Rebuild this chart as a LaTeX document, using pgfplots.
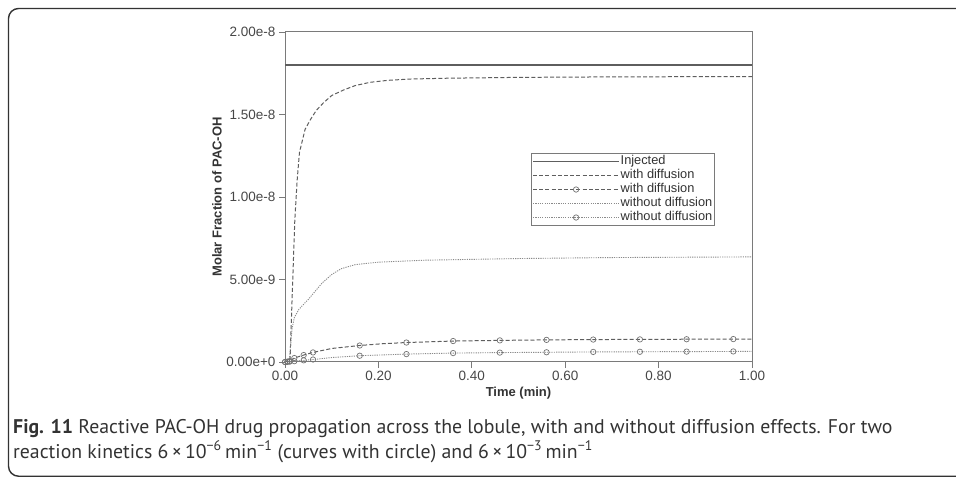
\documentclass[border=0pt]{standalone}
\usepackage{fontspec}
\setmainfont{Liberation Sans}
\newfontfamily\capfont{PT Sans}
\usepackage{pgfplots}
\pgfplotsset{compat=1.18}

\definecolor{axisgray}{HTML}{7A7A7A}
\definecolor{linegray}{HTML}{5E5E5E}
\definecolor{dotgray}{HTML}{8A8A8A}
\definecolor{textgray}{HTML}{333333}

\pgfplotsset{
  injected/.style={linegray, line width=1.1pt},
  withdiff/.style={linegray, line width=1.0pt, dash pattern=on 4pt off 2.2pt},
  withoutdiff/.style={dotgray, line width=0.9pt, dash pattern=on 1.2pt off 1.1pt},
  circ/.style={only marks, mark=o, mark size=2.7pt,
    mark options={solid, black!55, fill=white, line width=0.7pt}},
  circlegend/.style={legend image code/.code={
    \draw[##1] (0pt,0pt) -- (86pt,0pt);
    \path plot[mark=o, mark size=2.7pt, mark options={solid, black!55, fill=white, line width=0.7pt}] coordinates {(43pt,0pt)};}},
}

\begin{document}
\begin{tikzpicture}[x=1pt,y=1pt]
\path[use as bounding box] (0,0) rectangle (956,477);
% outer frame of the figure panel
\draw[line width=1.4pt, black!80, rounded corners=10pt] (8.5,0.8) rectangle (1010,468.5);

\begin{axis}[
  at={(285pt,115pt)}, anchor=south west,
  scale only axis, width=467pt, height=330pt,
  xmin=0, xmax=1, ymin=0, ymax=2e-8,
  xtick={0,0.2,0.4,0.6,0.8,1},
  xticklabels={0.00,0.20,0.40,0.60,0.80,1.00},
  ytick={0,5e-9,1e-8,1.5e-8,2e-8},
  yticklabels={0.00e+0,5.00e-9,1.00e-8,1.50e-8,2.00e-8},
  scaled y ticks=false, scaled x ticks=false,
  tick align=outside, tick pos=left,
  major tick length=6pt,
  axis line style={axisgray, line width=1pt},
  every tick/.style={axisgray, line width=0.9pt},
  tick label style={font=\fontsize{13.5}{16}\selectfont, text=black!72},
  xlabel={Time (min)}, ylabel={Molar Fraction of PAC-OH},
  label style={font=\bfseries\fontsize{13}{15}\selectfont, text=textgray},
  xlabel style={at={(axis description cs:0.5,-0.094)}, anchor=center},
  ylabel style={at={(axis description cs:-0.1456,0.5)}, anchor=center},
  legend image code/.code={\draw[#1] (0pt,0pt) -- (86pt,0pt);},
  legend cell align=left,
  legend style={at={(axis description cs:0.527,0.633)}, anchor=north west,
    draw=axisgray, line width=0.8pt, inner sep=1pt, row sep=0pt,
    font=\fontsize{12.8}{14}\selectfont, text=textgray,
    nodes={inner sep=1.1pt, text height=9.2pt, text depth=2.6pt}},
]

% injected concentration
\addplot[injected] coordinates {(0,1.8e-8) (1,1.8e-8)};
\addlegendentry{Injected}

% 6e-3 /min, with diffusion
\addplot[withdiff] coordinates {
  (0,0) (0.009,0) (0.011,0.03e-8) (0.013,0.2e-8) (0.016,0.45e-8)
  (0.021,0.86e-8) (0.026,1.10e-8) (0.031,1.27e-8) (0.043,1.41e-8)
  (0.054,1.467e-8) (0.067,1.525e-8) (0.082,1.57e-8) (0.10,1.615e-8)
  (0.125,1.648e-8) (0.15,1.675e-8) (0.182,1.695e-8) (0.22,1.707e-8)
  (0.268,1.715e-8) (0.35,1.72e-8) (0.5,1.725e-8) (0.7,1.728e-8) (1.0,1.73e-8)};
\addlegendentry{with diffusion}

% 6e-6 /min, with diffusion
\addplot[withdiff, circlegend] coordinates {
  (0,0) (0.005,0.002e-8) (0.01,0.006e-8) (0.02,0.024e-8) (0.04,0.042e-8)
  (0.06,0.058e-8) (0.10,0.082e-8) (0.16,0.100e-8) (0.21,0.111e-8) (0.26,0.118e-8)
  (0.36,0.127e-8) (0.46,0.131e-8) (0.56,0.134e-8) (0.66,0.136e-8)
  (0.76,0.137e-8) (0.86,0.138e-8) (0.96,0.139e-8) (1.0,0.139e-8)};
\addlegendentry{with diffusion}
\addplot[circ, forget plot] coordinates {
  (0,0) (0.005,0.002e-8) (0.01,0.006e-8) (0.02,0.024e-8) (0.04,0.042e-8)
  (0.06,0.058e-8) (0.16,0.100e-8) (0.26,0.118e-8) (0.36,0.127e-8)
  (0.46,0.131e-8) (0.56,0.134e-8) (0.66,0.136e-8) (0.76,0.137e-8)
  (0.86,0.138e-8) (0.96,0.139e-8)};

% 6e-3 /min, without diffusion
\addplot[withoutdiff] coordinates {
  (0,0) (0.009,0) (0.012,0.10e-8) (0.015,0.20e-8) (0.02,0.27e-8)
  (0.03,0.32e-8) (0.05,0.38e-8) (0.065,0.43e-8) (0.08,0.48e-8)
  (0.10,0.53e-8) (0.12,0.565e-8) (0.15,0.59e-8) (0.2,0.605e-8)
  (0.3,0.617e-8) (0.5,0.627e-8) (0.7,0.633e-8) (1.0,0.637e-8)};
\addlegendentry{without diffusion}

% 6e-6 /min, without diffusion
\addplot[withoutdiff, circlegend] coordinates {
  (0,0) (0.005,0.001e-8) (0.01,0.002e-8) (0.02,0.005e-8) (0.04,0.010e-8)
  (0.06,0.015e-8) (0.10,0.027e-8) (0.16,0.038e-8) (0.26,0.048e-8)
  (0.36,0.054e-8) (0.46,0.057e-8) (0.56,0.059e-8) (0.66,0.061e-8)
  (0.76,0.062e-8) (0.86,0.063e-8) (0.96,0.064e-8) (1.0,0.064e-8)};
\addlegendentry{without diffusion}
\addplot[circ, forget plot] coordinates {
  (0,0) (0.005,0.001e-8) (0.01,0.002e-8) (0.02,0.005e-8) (0.04,0.010e-8)
  (0.06,0.015e-8) (0.16,0.038e-8) (0.26,0.048e-8) (0.36,0.054e-8)
  (0.46,0.057e-8) (0.56,0.059e-8) (0.66,0.061e-8) (0.76,0.062e-8)
  (0.86,0.063e-8) (0.96,0.064e-8)};
\end{axis}

% figure caption
\node[anchor=base west, inner sep=0pt, font=\capfont\fontsize{19.8}{23}\selectfont, text=black!80]
  at (13,44) {\textbf{Fig. 11} Reactive PAC-OH drug propagation across the lobule, with and without diffusion effects. For two};
\node[anchor=base west, inner sep=0pt, font=\capfont\fontsize{19.8}{23}\selectfont, text=black!80]
  at (13,19) {reaction kinetics 6\,×\,10\textsuperscript{−6}\,min\textsuperscript{−1} (curves with circle) and 6\,×\,10\textsuperscript{−3}\,min\textsuperscript{−1}};
\end{tikzpicture}
\end{document}
